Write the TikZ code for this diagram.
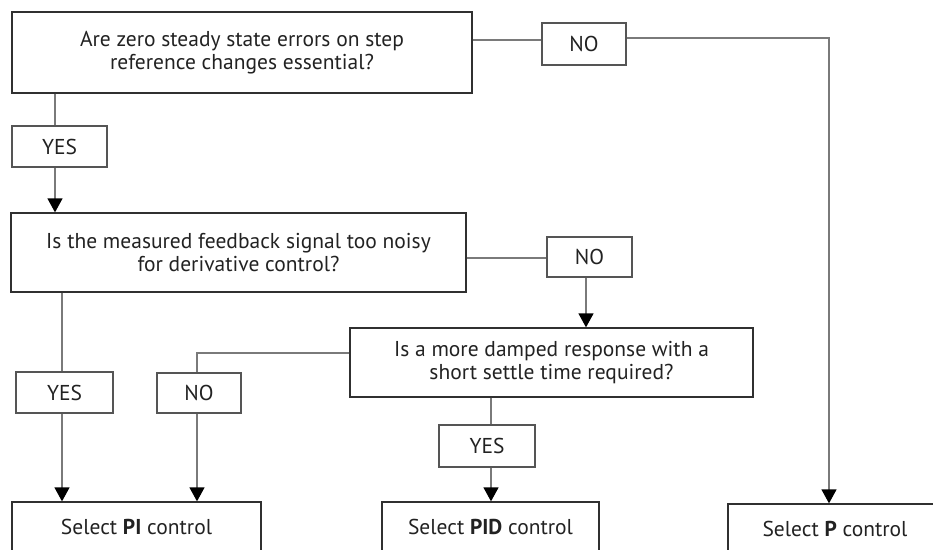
\documentclass[tikz,border=0pt]{standalone}
\usepackage{fontspec}
\setmainfont{PT Sans}
\usetikzlibrary{arrows.meta,calc}
\definecolor{boxline}{HTML}{303030}
\definecolor{lblline}{HTML}{555555}
\definecolor{connline}{HTML}{7A7A7A}
\definecolor{txt}{HTML}{222222}
\tikzset{
  qbox/.style={draw=boxline, line width=1.3pt, text=txt, align=center, inner sep=0pt,
    font=\fontsize{21.5}{23}\selectfont},
  lbl/.style={draw=lblline, line width=1.1pt, text=txt, inner sep=0pt,
    font=\fontsize{21.5}{23}\selectfont},
  conn/.style={draw=connline, line width=1.3pt},
  arr/.style={conn, -{Triangle[width=15pt,length=14pt,color=black]}},
}
\begin{document}
\begin{tikzpicture}[x=1pt,y=-1pt]
\useasboundingbox (0,0) rectangle (933,549);
\clip (0,0) rectangle (933,549);
% question boxes
\node[qbox, minimum width=460pt, minimum height=81pt] (q1) at (242,52.5)
  {Are zero steady state errors on step\\reference changes essential?};
\node[qbox, minimum width=455pt, minimum height=79pt] (q2) at (238.5,252.5)
  {Is the measured feedback signal too noisy\\for derivative control?};
\node[qbox, minimum width=403pt, minimum height=69pt] (q3) at (551.5,362.5)
  {Is a more damped response with a\\short settle time required?};
% result boxes
\node[qbox, minimum width=249pt, minimum height=50pt] (pi) at (136.5,527)
  {Select \textbf{PI} control};
\node[qbox, minimum width=217pt, minimum height=50pt] (pid) at (490.5,527)
  {Select \textbf{PID} control};
\node[qbox, minimum width=214pt, minimum height=50pt] (p) at (835,529)
  {Select \textbf{P} control};
% label boxes
\node[lbl, minimum width=84pt, minimum height=42pt] (no1) at (584,44) {NO};
\node[lbl, minimum width=95pt, minimum height=41pt] (yes1) at (59.5,146.5) {YES};
\node[lbl, minimum width=85pt, minimum height=40pt] (no2) at (589.5,257) {NO};
\node[lbl, minimum width=97pt, minimum height=41pt] (yes2) at (64.5,392.5) {YES};
\node[lbl, minimum width=84pt, minimum height=40pt] (no3) at (199,393) {NO};
\node[lbl, minimum width=96pt, minimum height=42pt] (yes3) at (487,446) {YES};
% connectors
\draw[conn] (q1.east |- 0,40) -- (no1.west |- 0,40);
\draw[arr] (no1.east |- 0,38) -| (p.north -| 829,0);
\draw[conn] (q1.south -| 55,0) -- (yes1.north -| 55,0);
\draw[arr] (yes1.south -| 55,0) -- (q2.north -| 55,0);
\draw[conn] (q2.east |- 0,258) -- (no2.west |- 0,258);
\draw[arr] (no2.south -| 586,0) -- (q3.north -| 586,0);
\draw[conn] (q2.south -| 62,0) -- (yes2.north -| 62,0);
\draw[arr] (yes2.south -| 62,0) -- (pi.north -| 62,0);
\draw[conn] (q3.west |- 0,353) -| (no3.north -| 197,0);
\draw[arr] (no3.south -| 197,0) -- (pi.north -| 197,0);
\draw[conn] (q3.south -| 491,0) -- (yes3.north -| 491,0);
\draw[arr] (yes3.south -| 491,0) -- (pid.north -| 491,0);
\end{tikzpicture}
\end{document}
